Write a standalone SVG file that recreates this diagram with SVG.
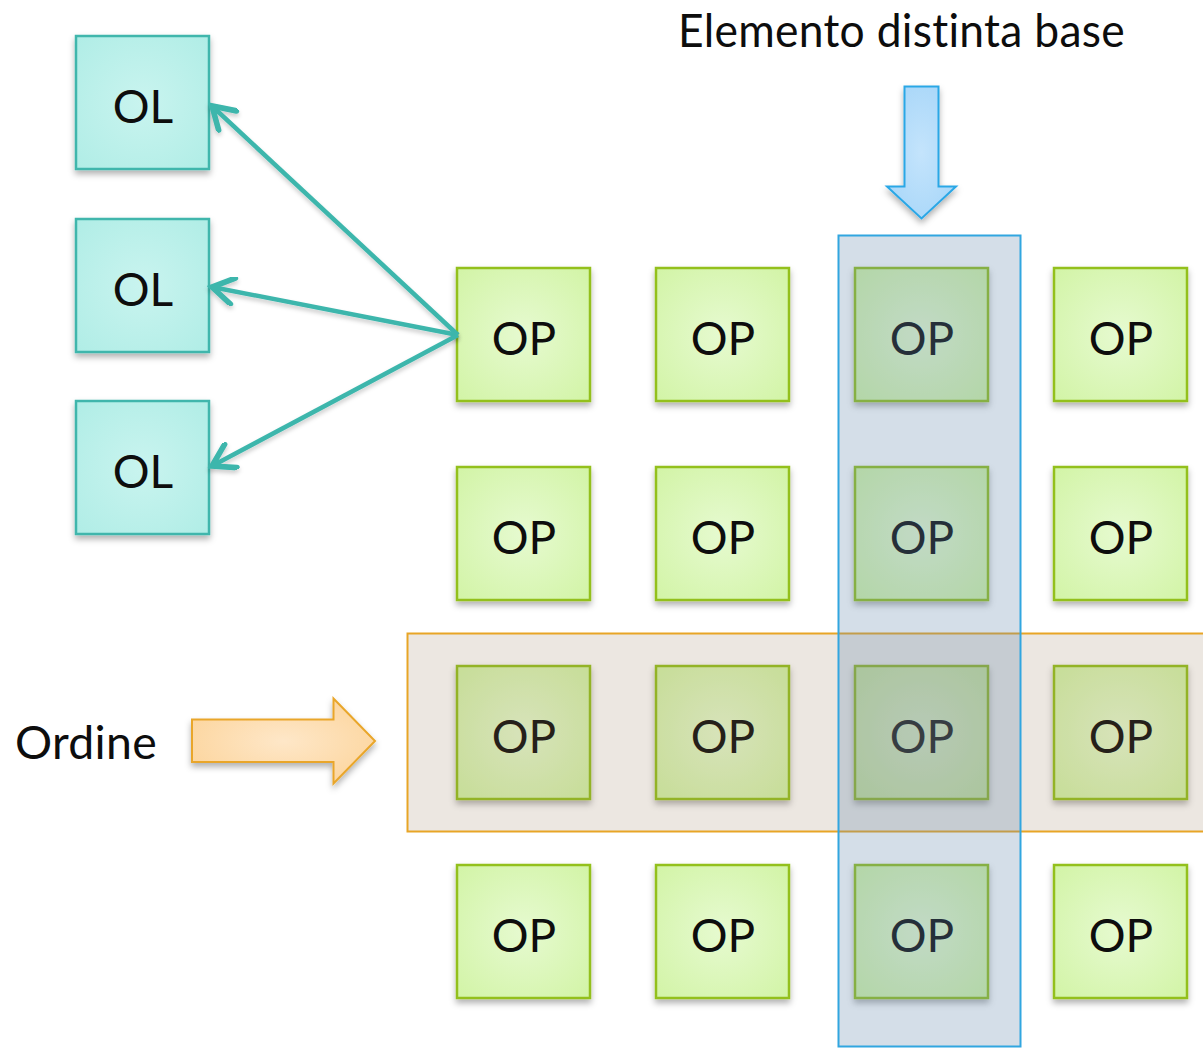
<svg xmlns="http://www.w3.org/2000/svg" width="1203" height="1048" viewBox="0 0 1203 1048">
<defs>
<style>
.lbl{font-family:"Lato","Liberation Sans",sans-serif;font-size:46px;fill:#0d0d0d;text-anchor:middle}
.big{font-family:"Lato","Liberation Sans",sans-serif;font-size:46px;fill:#0d0d0d;letter-spacing:0.3px;font-variant-ligatures:none;font-feature-settings:"liga" 0}
.op{fill:url(#gOP);stroke:#93c01f;stroke-width:2.5;filter:url(#sh)}
.ol{fill:url(#gOL);stroke:#3fb6ac;stroke-width:2.5;filter:url(#sh)}
.conn{stroke:#3db6ac;stroke-width:4.5;fill:none;marker-end:url(#chev);filter:url(#shl)}
</style>
<radialGradient id="gOP" cx="50%" cy="50%" r="70%">
<stop offset="0" stop-color="#e6fad0"/>
<stop offset="1" stop-color="#d2f4a6"/>
</radialGradient>
<radialGradient id="gOL" cx="50%" cy="50%" r="70%">
<stop offset="0" stop-color="#c9f4ef"/>
<stop offset="1" stop-color="#b0ede6"/>
</radialGradient>
<radialGradient id="gBlue" cx="50%" cy="50%" r="70%">
<stop offset="0" stop-color="#c4e4fc"/>
<stop offset="1" stop-color="#a3d4f8"/>
</radialGradient>
<radialGradient id="gOr" cx="50%" cy="50%" r="70%">
<stop offset="0" stop-color="#fee7c8"/>
<stop offset="1" stop-color="#fcd296"/>
</radialGradient>
<filter id="sh" x="-20%" y="-20%" width="140%" height="150%">
<feDropShadow dx="0" dy="4" stdDeviation="3" flood-color="#000" flood-opacity="0.3"/>
</filter>
<filter id="shl" x="-20%" y="-20%" width="140%" height="140%">
<feDropShadow dx="0" dy="3" stdDeviation="2" flood-color="#000" flood-opacity="0.2"/>
</filter>
<marker id="chev" markerUnits="userSpaceOnUse" markerWidth="30" markerHeight="30" viewBox="0 0 24 24" refX="20" refY="12" orient="auto">
<path d="M3,1.5 L20,12 L3,22.5" fill="none" stroke="#3db6ac" stroke-width="4.5" stroke-linecap="round" stroke-linejoin="miter"/>
</marker>
</defs>
<rect width="1203" height="1048" fill="#ffffff"/>

<g id="labels">
<text class="big" x="678" y="47" textLength="447" lengthAdjust="spacingAndGlyphs">Elemento distinta base</text>
<text class="big" x="15" y="759" textLength="142" lengthAdjust="spacingAndGlyphs">Ordine</text>
</g>

<g id="arrow-elemento">
<path d="M904.5,86.5 H938.5 V186.5 H956 L921.5,218.5 L887,186.5 H904.5 Z" fill="url(#gBlue)" stroke="#2aa7e6" stroke-width="2" filter="url(#sh)"/>
</g>
<g id="arrow-ordine">
<path d="M192,719.5 H333.5 V698.5 L375,741 L333.5,783.5 V762 H192 Z" fill="url(#gOr)" stroke="#e9a62a" stroke-width="2" filter="url(#sh)"/>
</g>

<g id="ol1"><rect class="ol" x="76" y="36" width="133" height="133"/><text class="lbl" x="143" y="122.5">OL</text></g>
<g id="ol2"><rect class="ol" x="76" y="219" width="133" height="133"/><text class="lbl" x="143" y="305.5">OL</text></g>
<g id="ol3"><rect class="ol" x="76" y="401" width="133" height="133"/><text class="lbl" x="143" y="487.5">OL</text></g>

<g id="op-r1c1"><rect class="op" x="457" y="268" width="133" height="133"/><text class="lbl" x="524" y="354.5">OP</text></g>
<g id="op-r1c2"><rect class="op" x="656" y="268" width="133" height="133"/><text class="lbl" x="723" y="354.5">OP</text></g>
<g id="op-r1c3"><rect class="op" x="855" y="268" width="133" height="133"/><text class="lbl" x="922" y="354.5">OP</text></g>
<g id="op-r1c4"><rect class="op" x="1054" y="268" width="133" height="133"/><text class="lbl" x="1121" y="354.5">OP</text></g>

<g id="op-r2c1"><rect class="op" x="457" y="467" width="133" height="133"/><text class="lbl" x="524" y="553.5">OP</text></g>
<g id="op-r2c2"><rect class="op" x="656" y="467" width="133" height="133"/><text class="lbl" x="723" y="553.5">OP</text></g>
<g id="op-r2c3"><rect class="op" x="855" y="467" width="133" height="133"/><text class="lbl" x="922" y="553.5">OP</text></g>
<g id="op-r2c4"><rect class="op" x="1054" y="467" width="133" height="133"/><text class="lbl" x="1121" y="553.5">OP</text></g>

<g id="op-r3c1"><rect class="op" x="457" y="666" width="133" height="133"/><text class="lbl" x="524" y="752.5">OP</text></g>
<g id="op-r3c2"><rect class="op" x="656" y="666" width="133" height="133"/><text class="lbl" x="723" y="752.5">OP</text></g>
<g id="op-r3c3"><rect class="op" x="855" y="666" width="133" height="133"/><text class="lbl" x="922" y="752.5">OP</text></g>
<g id="op-r3c4"><rect class="op" x="1054" y="666" width="133" height="133"/><text class="lbl" x="1121" y="752.5">OP</text></g>

<g id="op-r4c1"><rect class="op" x="457" y="865" width="133" height="133"/><text class="lbl" x="524" y="951.5">OP</text></g>
<g id="op-r4c2"><rect class="op" x="656" y="865" width="133" height="133"/><text class="lbl" x="723" y="951.5">OP</text></g>
<g id="op-r4c3"><rect class="op" x="855" y="865" width="133" height="133"/><text class="lbl" x="922" y="951.5">OP</text></g>
<g id="op-r4c4"><rect class="op" x="1054" y="865" width="133" height="133"/><text class="lbl" x="1121" y="951.5">OP</text></g>

<g id="connectors">
<line class="conn" x1="458" y1="335" x2="212" y2="106"/>
<line class="conn" x1="458" y1="335" x2="212" y2="287"/>
<line class="conn" x1="458" y1="335" x2="212" y2="466"/>
</g>

<g id="band-ordine">
<rect x="407.5" y="633.5" width="800" height="198" fill="rgb(150,120,90)" fill-opacity="0.18" stroke="#e8a526" stroke-width="2"/>
</g>
<g id="column-elemento">
<rect x="838.5" y="235.5" width="182" height="811" fill="rgb(101,136,171)" fill-opacity="0.28" stroke="#31a6e0" stroke-width="2"/>
</g>
</svg>
